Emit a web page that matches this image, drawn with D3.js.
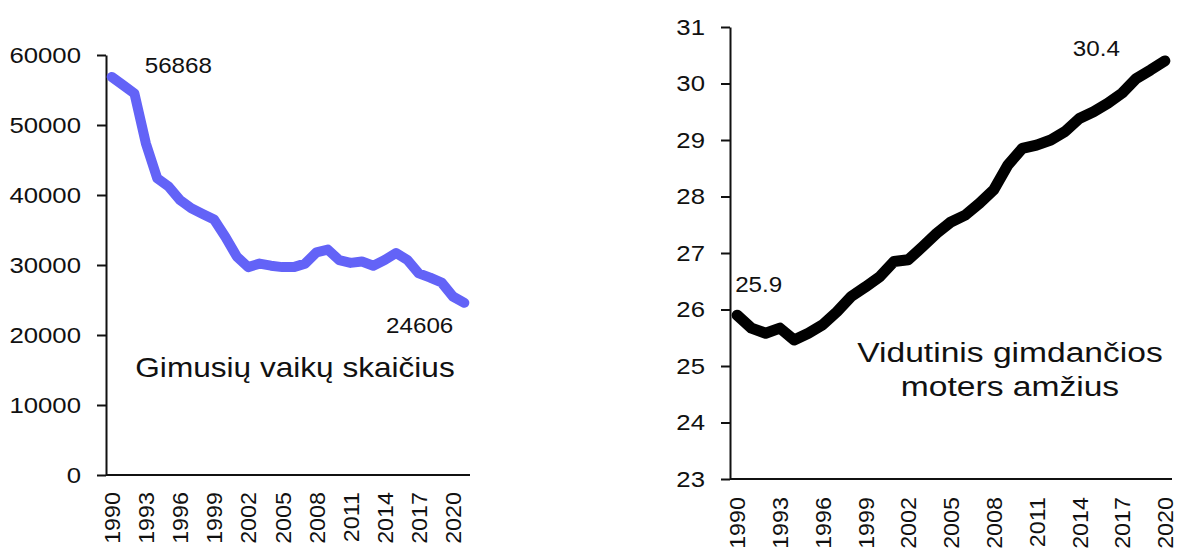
<!DOCTYPE html>
<html>
<head>
<meta charset="utf-8">
<script src="https://cdn.jsdelivr.net/npm/d3@7"></script>
<style>
  body { margin: 0; background: #fff; }
  svg { display: block; font-family: "Liberation Sans", Arial, sans-serif; }
  .axis path, .axis line { stroke: #111; stroke-width: 2; }
  .axis text { fill: #111; }
</style>
</head>
<body>
<svg id="chart" width="1177" height="550"></svg>
<script>
// data ------------------------------------------------------------
const birthYears = d3.range(1990, 2022);
const births = [56868, 55700, 54500, 47400, 42400, 41200, 39300, 38100, 37300, 36500,
                34000, 31200, 29700, 30200, 29900, 29700, 29700, 30200, 31800, 32200,
                30700, 30300, 30500, 29900, 30700, 31700, 30700, 28800, 28200, 27500,
                25500, 24606];

const ageYears = d3.range(1990, 2021);
const motherAge = [25.9, 25.67, 25.58, 25.67, 25.46, 25.58, 25.73, 25.96, 26.23, 26.4,
                   26.58, 26.85, 26.88, 27.11, 27.35, 27.55, 27.67, 27.88, 28.12, 28.56,
                   28.85, 28.91, 29.0, 29.15, 29.38, 29.5, 29.65, 29.83, 30.09, 30.24,
                   30.4];

const yearTicks = [1990, 1993, 1996, 1999, 2002, 2005, 2008, 2011, 2014, 2017, 2020];
const birthTicks = [0, 10000, 20000, 30000, 40000, 50000, 60000];
const ageTicks = [23, 24, 25, 26, 27, 28, 29, 30, 31];

const birthLabels = [{year: 1990, value: 56868, text: "56868"}, {year: 2021, value: 24606, text: "24606"}];
const ageLabels = [{year: 1990, value: 25.9, text: "25.9"}, {year: 2020, value: 30.4, text: "30.4"}];

const birthTitle = ["Gimusių vaikų skaičius"];
const ageTitle = ["Vidutinis gimdančios", "moters amžius"];

// text in the picture is a bit wider than Arial
const stretch = 1.12;
const fontFamily = '"Liberation Sans", Arial, sans-serif';

const svg = d3.select("#chart");

// one panel -------------------------------------------------------
function drawPanel(opt)
{
    const g = svg.append("g");

    const x = d3.scalePoint()
        .domain(opt.years)
        .range([opt.left, opt.right])
        .padding(0.5);

    const y = d3.scaleLinear()
        .domain(opt.domain)
        .range([opt.bottom, opt.top]);

    // y axis
    g.append("g")
        .attr("class", "axis")
        .attr("transform", `translate(${opt.left},0)`)
        .call(d3.axisLeft(y).tickValues(opt.yTicks).tickSize(9).tickSizeOuter(0).tickFormat(d3.format("d")))
        .attr("font-family", fontFamily)
        .call(a => a.selectAll("text")
            .attr("x", null)
            .attr("font-size", 23)
            .attr("text-anchor", "end")
            .attr("transform", `translate(-25,0) scale(${stretch},1)`));

    // x axis
    g.append("g")
        .attr("class", "axis")
        .attr("transform", `translate(0,${opt.bottom})`)
        .call(d3.axisBottom(x).tickValues(yearTicks).tickSize(0).tickSizeOuter(0))
        .attr("font-family", fontFamily)
        .call(a => a.select(".domain").attr("d", `M${opt.left},0H${opt.right}`))
        .call(a => a.selectAll("text")
            .attr("y", null)
            .attr("dy", "0.35em")
            .attr("font-size", 22)
            .attr("text-anchor", "end")
            .attr("transform", `translate(0,${opt.labelGap}) rotate(-90) scale(1.06,1)`));

    // line
    const line = d3.line()
        .x((d, i) => x(opt.years[i]))
        .y(d => y(d));

    g.append("path")
        .datum(opt.values)
        .attr("fill", "none")
        .attr("stroke", opt.color)
        .attr("stroke-width", opt.lineWidth)
        .attr("stroke-linejoin", "round")
        .attr("stroke-linecap", "round")
        .attr("d", line);

    // value labels
    g.selectAll(".vlabel")
        .data(opt.labels)
        .join("text")
        .attr("class", "vlabel")
        .attr("font-size", 22)
        .attr("fill", "#111")
        .attr("text-anchor", (d, i) => opt.labelPos[i].anchor)
        .attr("transform", (d, i) => `translate(${x(d.year) + opt.labelPos[i].dx},${y(d.value) + opt.labelPos[i].dy}) scale(1.1,1)`)
        .text(d => d.text);

    // title
    g.selectAll(".title")
        .data(opt.title)
        .join("text")
        .attr("class", "title")
        .attr("font-size", opt.titleSize)
        .attr("fill", "#111")
        .attr("text-anchor", "middle")
        .attr("transform", (d, i) => `translate(${opt.titleX},${opt.titleY + i * 34}) scale(${opt.titleStretch},1)`)
        .text(d => d);
}

drawPanel({
    years: birthYears, values: births, domain: [0, 60000], yTicks: birthTicks,
    left: 106, right: 470, top: 55, bottom: 475, labelGap: 17,
    color: "#6363f7", lineWidth: 10,
    labels: birthLabels,
    labelPos: [{anchor: "start", dx: 33, dy: -4}, {anchor: "end", dx: -11, dy: 30}],
    title: birthTitle, titleX: 295, titleY: 377, titleSize: 27, titleStretch: 1.17
});

drawPanel({
    years: ageYears, values: motherAge, domain: [23, 31], yTicks: ageTicks,
    left: 730, right: 1172, top: 27, bottom: 479, labelGap: 18,
    color: "#000", lineWidth: 11,
    labels: ageLabels,
    labelPos: [{anchor: "start", dx: -2, dy: -23}, {anchor: "end", dx: -45, dy: -5}],
    title: ageTitle, titleX: 1010, titleY: 362, titleSize: 28, titleStretch: 1.2
});
</script>
</body>
</html>
